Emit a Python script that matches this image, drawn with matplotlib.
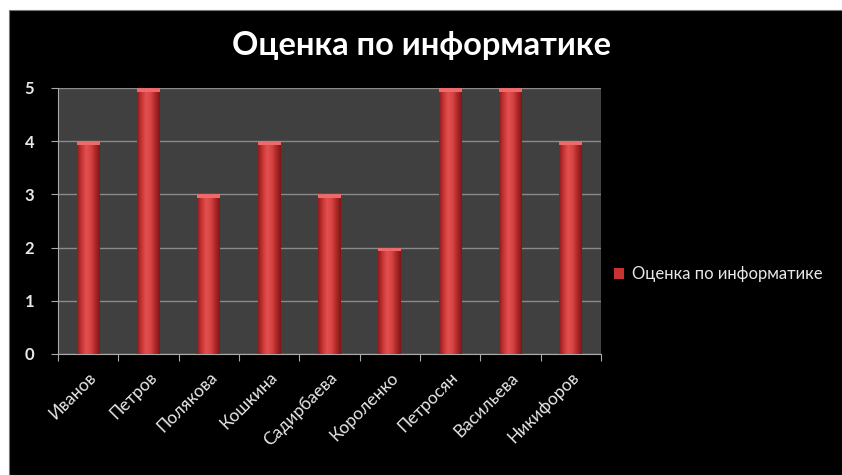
import numpy as np
import matplotlib
matplotlib.use("Agg")
import matplotlib.pyplot as plt
from matplotlib.patches import Rectangle
from matplotlib.colors import LinearSegmentedColormap
from matplotlib.transforms import ScaledTranslation

plt.rcParams['font.family'] = ['Lato', 'DejaVu Sans']

names = ['Иванов', 'Петров', 'Полякова', 'Кошкина', 'Садирбаева',
         'Короленко', 'Петросян', 'Васильева', 'Никифоров']
grades = [4, 5, 3, 4, 3, 2, 5, 5, 4]
title = 'Оценка по информатике'

fig = plt.figure(figsize=(8.42, 4.75), dpi=100)
fig.patch.set_facecolor('white')
# black chart area inside white margin
fig.patches.append(Rectangle((9/842, 0), 1, 1 - 10/475, transform=fig.transFigure,
                             facecolor='black', edgecolor='#777777', lw=0.8, zorder=-1))

ax = fig.add_axes([58/842, 1 - 354/475, 543/842, 266/475])
ax.set_facecolor('#404040')

x = np.arange(len(names))
bars = ax.bar(x, grades, width=0.38, color='#c83232', zorder=3)

# cylinder-like shading for each bar
cmap = LinearSegmentedColormap.from_list('cyl', ['#8e1c1c', '#c93434', '#e25050', '#d84444', '#b02828', '#7e1616'])
grad = np.linspace(0, 1, 64).reshape(1, -1)
for b in bars:
    x0, w, h = b.get_x(), b.get_width(), b.get_height()
    im = ax.imshow(grad, cmap=cmap, aspect='auto', extent=[x0, x0 + w, 0, h], zorder=4)
    im.set_clip_path(b)
    # lighter top cap
    ax.fill_between([x0, x0 + w], h - 0.07, h, color='#ee6a6a', zorder=5, lw=0)

ax.set_xlim(-0.5, len(names) - 0.5)
ax.set_ylim(0, 5)
ax.set_yticks(range(0, 6))
ax.set_xticks(np.arange(-0.5, len(names), 1.0))
ax.set_xticklabels([])
ax.set_xticks(x, minor=True)
ax.set_xticklabels(names, minor=True, rotation=45, ha='right', rotation_mode='anchor',
                   color='#e8e8e8', fontsize=12.5)
shift = ScaledTranslation(-4/100, 0, fig.dpi_scale_trans)
for lab in ax.get_xticklabels(minor=True):
    lab.set_transform(lab.get_transform() + shift)
ax.tick_params(axis='x', which='minor', length=0, pad=11)
ax.tick_params(axis='x', which='major', length=5, color='#aaaaaa', direction='out')
ax.tick_params(axis='y', length=5, color='#aaaaaa', colors='#e8e8e8', labelsize=12, pad=12)
for lab in ax.get_yticklabels():
    lab.set_fontweight('bold')
ax.yaxis.grid(True, color='#8a8a8a', lw=1.0, zorder=1)
for s in ['top', 'right']:
    ax.spines[s].set_visible(False)
for s in ['left', 'bottom']:
    ax.spines[s].set_color('#aaaaaa')

fig.text(422/842, 1 - 45/475, title, ha='center', va='center', color='white',
         fontsize=23.5, fontweight='bold')

leg = ax.legend([bars], [title], loc='center left', bbox_to_anchor=(0.997, 0.3),
                frameon=False, fontsize=12, labelcolor='#e8e8e8',
                handlelength=0.6, handleheight=0.6, handletextpad=0.45)

fig.savefig('out.png', dpi=100, facecolor=fig.get_facecolor())
